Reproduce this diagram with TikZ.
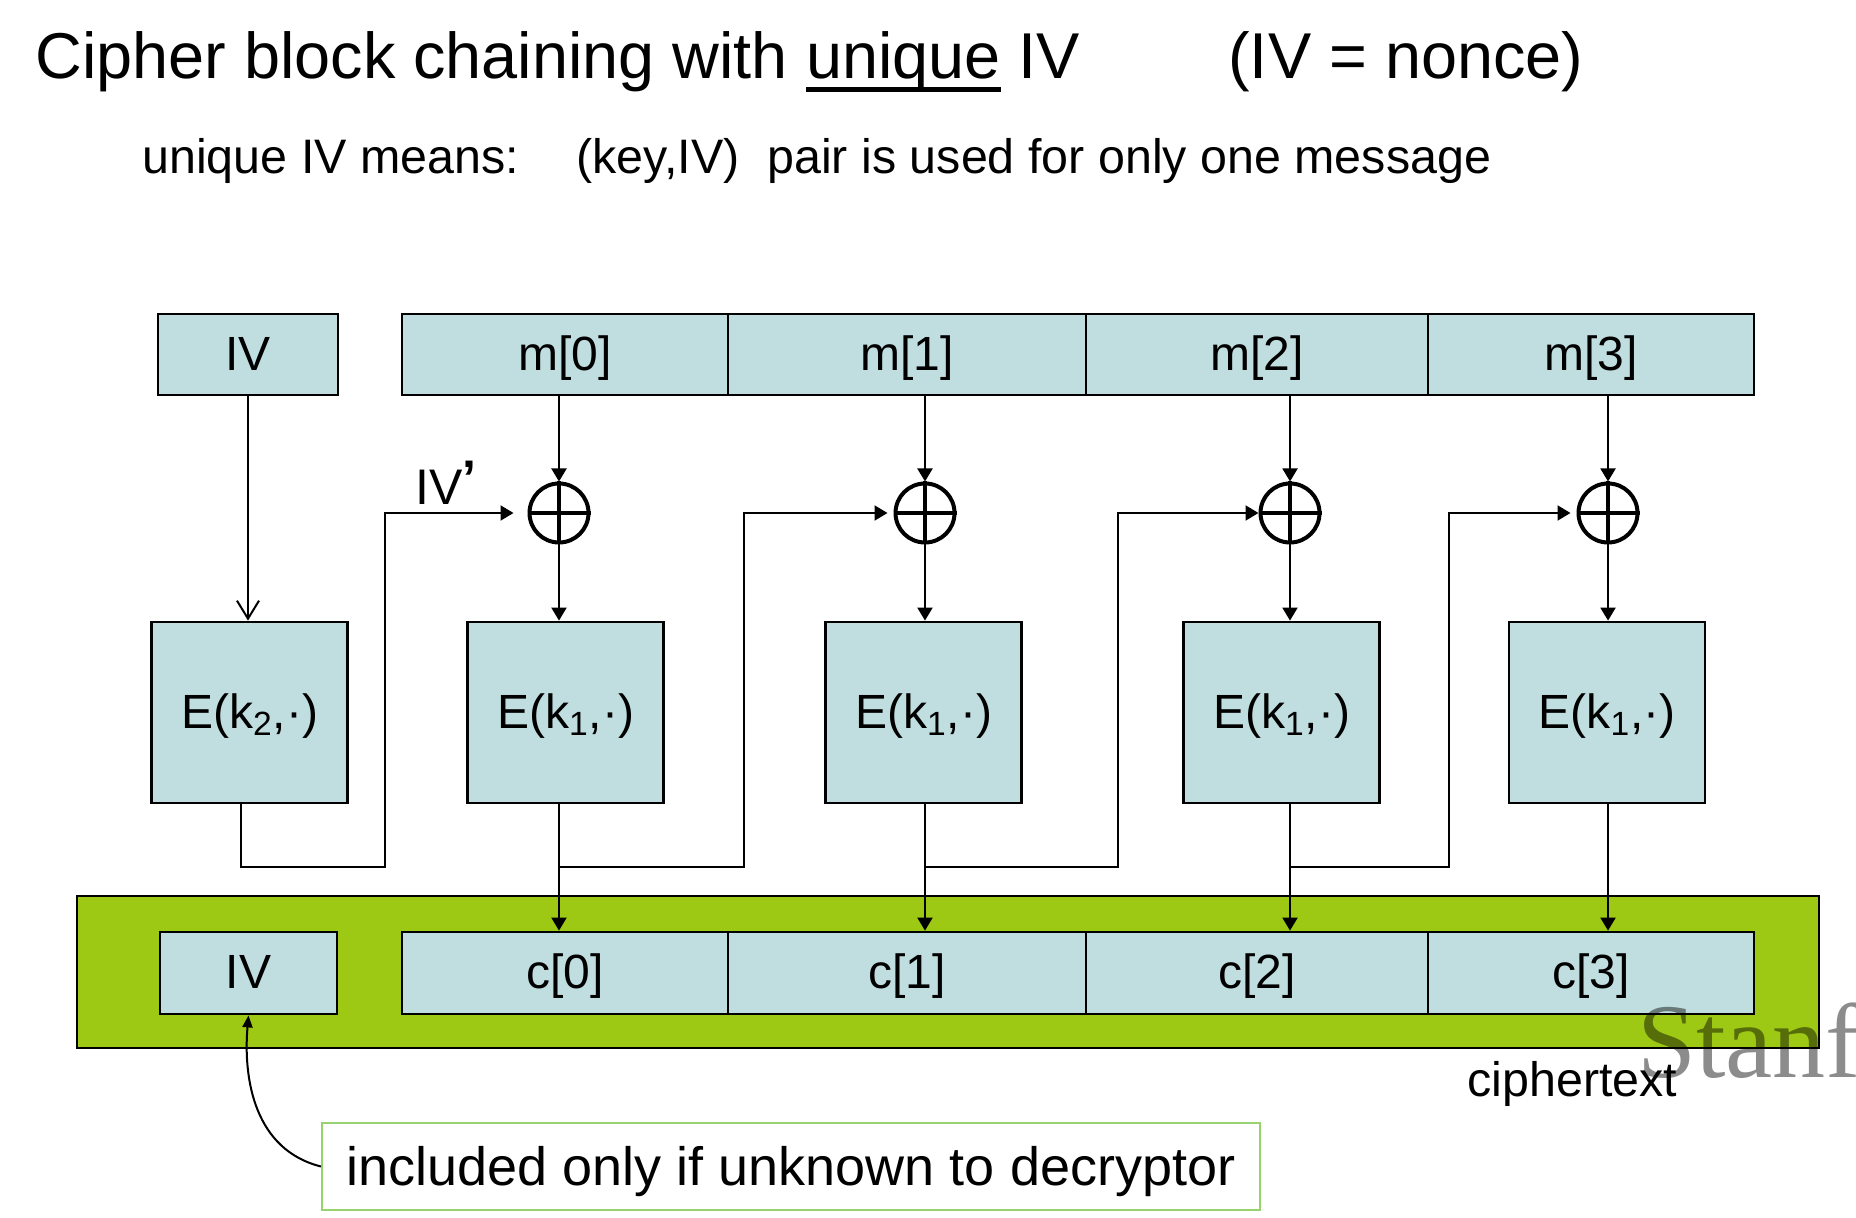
\documentclass[tikz,border=0pt]{standalone}
\usepackage{fontspec}
\setmainfont{Liberation Sans}
\newfontfamily\wmfont{Liberation Serif}
\usetikzlibrary{arrows.meta}
\definecolor{boxfill}{RGB}{192,222,224}
\definecolor{bandgreen}{RGB}{157,200,19}
\definecolor{calloutgreen}{RGB}{150,210,110}
\newcommand{\ulword}[1]{\setbox0\hbox{#1}\rlap{\rule[-0.2em]{\wd0}{0.07em}}\box0\relax}
\begin{document}
\begin{tikzpicture}[x=0.5pt,y=-0.5pt,
  box/.style={draw=black, line width=1.4pt, fill=boxfill, inner sep=0pt, text height=17.3pt, text depth=1.4pt, font=\fontsize{24}{28}\selectfont},
  xorc/.style={draw, circle, line width=2pt, minimum size=29.5pt, inner sep=0pt},
  arr/.style={line width=1pt, -{Triangle[length=6.5pt,width=7.5pt]}},
  openarr/.style={line width=1pt, -{Straight Barb[length=9pt,width=11pt]}},
  txt/.style={anchor=base west, inner sep=0pt},
]
\path[use as bounding box, fill=white] (0,0) rectangle (1856,1218);

% title
\node[txt, font=\fontsize{32.4}{38}\selectfont] (title) at (35,79) {Cipher block chaining with \ulword{unique} IV};
\node[txt, font=\fontsize{32.4}{38}\selectfont] (nonce) at (1228,79) {(IV = nonce)};
\node[txt, font=\fontsize{24.2}{28}\selectfont] (sub1) at (142,174) {unique IV means:};
\node[txt, font=\fontsize{24.2}{28}\selectfont] (sub2) at (576,174) {(key,IV)};
\node[txt, font=\fontsize{24.2}{28}\selectfont] (sub3) at (767,174) {pair is used for only one message};

% top row
\node[box, minimum width=90pt, minimum height=40.5pt] (ivt) at (248,354.5) {IV};
\node[box, minimum width=163pt, minimum height=40.5pt] (m0) at (565,354.5) {m[0]};
\node[box, minimum width=179pt, minimum height=40.5pt] (m1) at (907,354.5) {m[1]};
\node[box, minimum width=171pt, minimum height=40.5pt] (m2) at (1257,354.5) {m[2]};
\node[box, minimum width=163pt, minimum height=40.5pt] (m3) at (1591,354.5) {m[3]};

% xor circles
\node[xorc] (x1) at (559,513) {};
\node[xorc] (x2) at (925,513) {};
\node[xorc] (x3) at (1290,513) {};
\node[xorc] (x4) at (1608,513) {};
\foreach \c in {x1,x2,x3,x4}{
  \draw[line width=2pt] (\c.north) -- (\c.south) (\c.west) -- (\c.east);
}

% E boxes
\node[box, minimum width=98pt, minimum height=90.5pt] (E0) at (249.5,712.5) {E(k\textsubscript{2},·)};
\node[box, minimum width=98pt, minimum height=90.5pt] (E1) at (565.5,712.5) {E(k\textsubscript{1},·)};
\node[box, minimum width=98pt, minimum height=90.5pt] (E2) at (923.5,712.5) {E(k\textsubscript{1},·)};
\node[box, minimum width=98pt, minimum height=90.5pt] (E3) at (1281.5,712.5) {E(k\textsubscript{1},·)};
\node[box, minimum width=98pt, minimum height=90.5pt] (E4) at (1607,712.5) {E(k\textsubscript{1},·)};

% bottom band
\node[draw=black, line width=0.8pt, fill=bandgreen, minimum width=871pt, minimum height=76pt, inner sep=0pt] (band) at (948,972) {};
\node[box, minimum width=88.5pt, minimum height=41pt] (ivb) at (248.5,973) {IV};
\node[box, minimum width=163pt, minimum height=41pt] (c0) at (565,973) {c[0]};
\node[box, minimum width=179pt, minimum height=41pt] (c1) at (907,973) {c[1]};
\node[box, minimum width=171pt, minimum height=41pt] (c2) at (1257,973) {c[2]};
\node[box, minimum width=163pt, minimum height=41pt] (c3) at (1591,973) {c[3]};

% IV -> E(k2)
\draw[openarr] (ivt.south) -- (ivt.south |- E0.north);

% message -> xor -> E -> c
\foreach \i/\m/\e/\cc in {1/m0/E1/c0, 2/m1/E2/c1, 3/m2/E3/c2, 4/m3/E4/c3}{
  \draw[arr] (\m.south -| x\i) -- (x\i.north);
  \draw[arr] (x\i.south) -- (x\i |- \e.north);
  \draw[arr] (\e.south -| x\i) -- (\cc.north -| x\i);
}

% chaining lines
\coordinate (r1) at (385,867);
\coordinate (r2) at (744,867);
\coordinate (r3) at (1118,867);
\coordinate (r4) at (1449,867);
\draw[arr, shorten >=7pt] ([xshift=-4.5pt]E0.south) |- (r1) |- (x1.west);
\draw[arr, shorten >=3pt] (x1 |- r2) -- (r2) |- (x2.west);
\draw[arr] (x2 |- r3) -- (r3) |- (x3.west);
\draw[arr, shorten >=3pt] (x3 |- r4) -- (r4) |- (x4.west);

\node[txt, font=\fontsize{25}{30}\selectfont] (ivp) at (415,505) {IV\raisebox{0.18em}{\bfseries ’}};

% callout
\node[draw=calloutgreen, line width=1pt, fill=white, minimum width=469pt, minimum height=43.5pt, inner sep=0pt, text height=22pt, text depth=3.5pt, font=\fontsize{27}{32}\selectfont] (note) at (791,1166.5) {included only if unknown to decryptor};
\draw[line width=1pt, -{Triangle[length=6pt,width=5pt]}] (note.west) .. controls (255,1150) and (243,1080) .. (ivb.south);

% watermark and label
\node[txt, font=\wmfont\fontsize{53}{60}\selectfont, text=black, text opacity=0.45] (wm) at (1637,1077) {Stanford};
\node[txt, font=\fontsize{24.2}{28}\selectfont] (ct) at (1467,1096) {ciphertext};
\end{tikzpicture}
\end{document}
